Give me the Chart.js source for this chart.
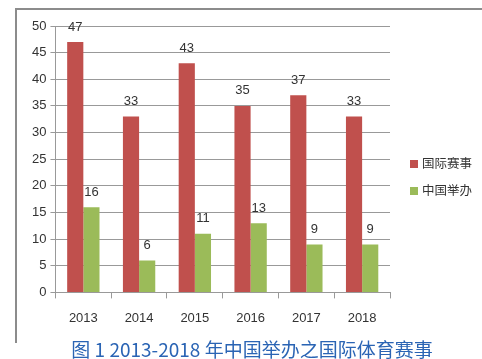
<!DOCTYPE html>
<html lang="zh">
<head>
<meta charset="UTF-8">
<title>中国举办之国际体育赛事</title>
<style>
  body { margin: 0; background: #fff; width: 482px; height: 359px; overflow: hidden; position: relative; font-family: "Liberation Sans", "Noto Sans CJK SC", sans-serif; }
  .frame { position: absolute; left: 15px; top: 8px; width: 467px; height: 333px; border-top: 2px solid #8c8c8c; border-left: 2px solid #8c8c8c; }
  .box { position: absolute; left: 17px; top: 10px; width: 465px; height: 328px; }
  .legend { position: absolute; left: 410px; top: 154px; width: 72px; font-family: "Noto Sans CJK SC", sans-serif; font-size: 12.5px; color: #333; }
  .legend div { height: 27px; line-height: 18px; white-space: nowrap; }
  .legend span { display: inline-block; width: 8px; height: 8px; margin-right: 4px; vertical-align: 0px; }
  .caption { position: absolute; left: 0; width: 504px; top: 336px; text-align: center; color: #2a64b4; font-size: 19px; line-height: 26px; font-family: "Noto Sans CJK SC", sans-serif; white-space: nowrap; }
</style>
</head>
<body>
<div class="frame"></div>
<div class="box"><canvas id="Chart"></canvas></div>
<div class="legend" id="legend"></div>
<div class="caption">图 1 2013-2018 年中国举办之国际体育赛事</div>
<script src="https://cdn.jsdelivr.net/npm/chart.js"></script>
<script>
  const years = ['2013', '2014', '2015', '2016', '2017', '2018'];
  const intlEvents = [47, 33, 43, 35, 37, 33];
  const hostedInChina = [16, 6, 11, 13, 9, 9];

  // numbers above bars
  const barLabels = {
    id: 'barLabels',
    afterDatasetsDraw(chart) {
      const ctx = chart.ctx;
      ctx.save();
      ctx.font = '13px "Liberation Sans", sans-serif';
      ctx.fillStyle = '#333';
      ctx.textAlign = 'center';
      ctx.textBaseline = 'middle';
      chart.data.datasets.forEach((ds, i) => {
        chart.getDatasetMeta(i).data.forEach((bar, j) => {
          ctx.fillText(ds.data[j], bar.x, bar.y - 15);
        });
      });
      ctx.restore();
    }
  };

  var ctx = document.getElementById('Chart').getContext('2d');
  var chart = new Chart(ctx, {
    type: 'bar',
    data: {
      labels: years,
      datasets: [
        { label: '国际赛事', data: intlEvents, backgroundColor: '#c0504d' },
        { label: '中国举办', data: hostedInChina, backgroundColor: '#9bbb59' }
      ]
    },
    options: {
      animation: false,
      responsive: true,
      maintainAspectRatio: false,
      datasets: { bar: { categoryPercentage: 0.58, barPercentage: 1 } },
      layout: { padding: { top: 16, right: 92, bottom: 0, left: 11 } },
      plugins: {
        tooltip: { enabled: false },
        legend: { display: false }
      },
      scales: {
        x: {
          grid: { drawOnChartArea: false, color: '#999', tickLength: 6 },
          border: { color: '#999' },
          ticks: { color: '#333', padding: 12, font: { size: 13, family: '"Liberation Sans", sans-serif' } }
        },
        y: {
          min: 0, max: 50,
          grid: { color: '#999', tickLength: 5 },
          border: { color: '#999' },
          ticks: { stepSize: 5, color: '#333', padding: 4, font: { size: 13, family: '"Liberation Sans", sans-serif' } }
        }
      }
    },
    plugins: [barLabels]
  });

  // legend built from the datasets
  document.getElementById('legend').innerHTML = chart.data.datasets
    .map(ds => `<div><span style="background:${ds.backgroundColor}"></span>${ds.label}</div>`)
    .join('');
</script>
</body>
</html>
